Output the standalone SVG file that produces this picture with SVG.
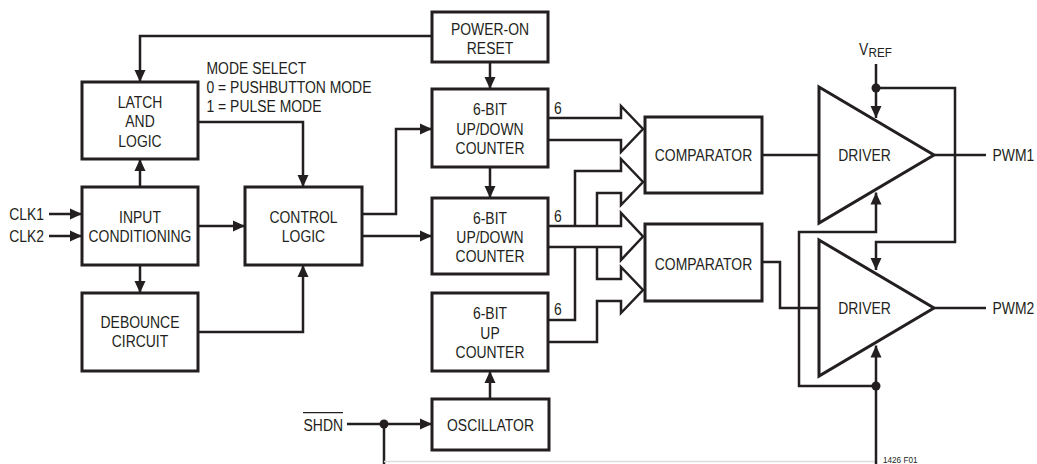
<svg xmlns="http://www.w3.org/2000/svg" width="1037" height="464" viewBox="0 0 1037 464">
<style>
.box{fill:#fff;stroke:#231f20;stroke-width:3}
.w{fill:none;stroke:#231f20;stroke-width:2.5}
.t{font-family:"Liberation Sans",Arial,sans-serif;font-size:17px;fill:#231f20}
.c{text-anchor:middle}
.e{text-anchor:end}
.dot{fill:#231f20}
</style>
<defs>
<marker id="ah" markerUnits="userSpaceOnUse" markerWidth="12" markerHeight="12" refX="12" refY="6" orient="auto"><path d="M0,0.5 L12,6 L0,11.5 z" fill="#231f20"/></marker>
</defs>
<rect width="1037" height="464" fill="#fff"/>
<g id="connectors">
<polyline class="w" points="432,36 140,36 140,82" marker-end="url(#ah)"/>
<polyline class="w" points="490,62 490,89" marker-end="url(#ah)"/>
<polyline class="w" points="490,167 490,198" marker-end="url(#ah)"/>
<polyline class="w" points="490,399 490,371" marker-end="url(#ah)"/>
<polyline class="w" points="347,424 432,424" marker-end="url(#ah)"/>
<polyline class="w" points="384,424 384,464"/>
<line x1="384" y1="461.5" x2="876" y2="461.5" stroke="#dcdcdc" stroke-width="1.5"/>
<circle class="dot" cx="384" cy="424" r="4.5"/>
<polyline class="w" points="49,214 82,214" marker-end="url(#ah)"/>
<polyline class="w" points="49,236 82,236" marker-end="url(#ah)"/>
<polyline class="w" points="140,187 140,159" marker-end="url(#ah)"/>
<polyline class="w" points="140,265 140,293" marker-end="url(#ah)"/>
<polyline class="w" points="198,226 245,226" marker-end="url(#ah)"/>
<polyline class="w" points="198,122 303,122 303,187" marker-end="url(#ah)"/>
<polyline class="w" points="198,332 303,332 303,265" marker-end="url(#ah)"/>
<polyline class="w" points="362,214 396,214 396,129 432,129" marker-end="url(#ah)"/>
<polyline class="w" points="362,236 432,236" marker-end="url(#ah)"/>
<polyline class="w" points="548,118 621,118 621,106 643,129 621,152 621,140 548,140"/>
<polyline class="w" points="575,226 575,171 621,171 621,159 643,182 621,205 621,193 597,193 597,226"/>
<polyline class="w" points="548,226 621,226 621,213 643,236.5 621,260 621,247 548,247"/>
<polyline class="w" points="575,247 575,320 548,320"/>
<polyline class="w" points="597,247 597,279 621,279 621,267 643,290 621,313 621,301 597,301 597,342 548,342"/>
<polyline class="w" points="762,155 819,155"/>
<polyline class="w" points="762,262 780,262 780,308 819,308"/>
<polyline class="w" points="934,155 986,155"/>
<polyline class="w" points="934,308 986,308"/>
<polyline class="w" points="876,64 876,118" marker-end="url(#ah)"/>
<polyline class="w" points="876,88 955,88 955,242 876,242 876,270" marker-end="url(#ah)"/>
<circle class="dot" cx="876" cy="88" r="4.5"/>
<polyline class="w" points="876,464 876,345.5" marker-end="url(#ah)"/>
<polyline class="w" points="876,386 799,386 799,232 876,232 876,192.5" marker-end="url(#ah)"/>
<circle class="dot" cx="876" cy="386" r="4.5"/>
</g>
<g id="latch">
<rect class="box" x="82" y="82" width="116" height="77"/>
<g class="t c" transform="translate(140 0) scale(0.82 1)"><text x="0" y="108.3">LATCH</text><text x="0" y="127">AND</text><text x="0" y="147">LOGIC</text></g>
</g>
<g id="mode-select">
<g class="t" transform="translate(206.5 0) scale(0.82 1)"><text x="0" y="74">MODE SELECT</text><text x="0" y="93.5">0 = PUSHBUTTON MODE</text><text x="0" y="112.3">1 = PULSE MODE</text></g>
</g>
<g id="input-conditioning">
<rect class="box" x="82" y="187" width="116" height="78"/>
<g class="t c" transform="translate(140 0) scale(0.82 1)"><text x="0" y="223">INPUT</text><text x="0" y="242">CONDITIONING</text></g>
</g>
<g id="clk-labels">
<g class="t e" transform="translate(44 0) scale(0.82 1)"><text x="0" y="220">CLK1</text><text x="0" y="242">CLK2</text></g>
</g>
<g id="debounce">
<rect class="box" x="82" y="293" width="116" height="78"/>
<g class="t c" transform="translate(140 0) scale(0.82 1)"><text x="0" y="328">DEBOUNCE</text><text x="0" y="347">CIRCUIT</text></g>
</g>
<g id="control-logic">
<rect class="box" x="245" y="187" width="117" height="78"/>
<g class="t c" transform="translate(303.5 0) scale(0.82 1)"><text x="0" y="223">CONTROL</text><text x="0" y="242">LOGIC</text></g>
</g>
<g id="power-on-reset">
<rect class="box" x="432" y="12" width="116" height="50"/>
<g class="t c" transform="translate(490 0) scale(0.82 1)"><text x="0" y="34.7">POWER-ON</text><text x="0" y="54">RESET</text></g>
</g>
<g id="counter1">
<rect class="box" x="432" y="89" width="116" height="78"/>
<g class="t c" transform="translate(490 0) scale(0.82 1)"><text x="0" y="115.3">6-BIT</text><text x="0" y="135.5">UP/DOWN</text><text x="0" y="154.2">COUNTER</text></g>
<g class="t" transform="translate(554 0) scale(0.82 1)"><text x="0" y="114">6</text></g>
</g>
<g id="counter2">
<rect class="box" x="432" y="198" width="116" height="76"/>
<g class="t c" transform="translate(490 0) scale(0.82 1)"><text x="0" y="224">6-BIT</text><text x="0" y="243">UP/DOWN</text><text x="0" y="262">COUNTER</text></g>
<g class="t" transform="translate(554 0) scale(0.82 1)"><text x="0" y="222">6</text></g>
</g>
<g id="counter3">
<rect class="box" x="432" y="293" width="116" height="78"/>
<g class="t c" transform="translate(490 0) scale(0.82 1)"><text x="0" y="319">6-BIT</text><text x="0" y="339">UP</text><text x="0" y="358">COUNTER</text></g>
<g class="t" transform="translate(554 0) scale(0.82 1)"><text x="0" y="315">6</text></g>
</g>
<g id="oscillator">
<rect class="box" x="432" y="399" width="117" height="51"/>
<g class="t c" transform="translate(490.5 0) scale(0.82 1)"><text x="0" y="430.7">OSCILLATOR</text></g>
</g>
<g id="shdn">
<g class="t e" transform="translate(343 0) scale(0.82 1)"><text x="0" y="431">SHDN</text></g>
<line x1="303" y1="412.7" x2="343" y2="412.7" stroke="#231f20" stroke-width="1.3"/>
</g>
<g id="comparator1">
<rect class="box" x="645" y="117" width="117" height="76"/>
<g class="t c" transform="translate(703.5 0) scale(0.82 1)"><text x="0" y="161">COMPARATOR</text></g>
</g>
<g id="comparator2">
<rect class="box" x="645" y="224" width="117" height="77"/>
<g class="t c" transform="translate(703.5 0) scale(0.82 1)"><text x="0" y="269.7">COMPARATOR</text></g>
</g>
<g id="driver1">
<polygon class="box" points="819,87 934,155 819,223"/>
<g class="t c" transform="translate(864.5 0) scale(0.82 1)"><text x="0" y="161">DRIVER</text></g>
</g>
<g id="driver2">
<polygon class="box" points="819,240 934,308 819,376"/>
<g class="t c" transform="translate(864.5 0) scale(0.82 1)"><text x="0" y="314.5">DRIVER</text></g>
</g>
<g id="vref">
<g class="t" transform="translate(859 0) scale(0.82 1)"><text x="0" y="55">V</text></g>
<g class="t" transform="translate(868.5 0) scale(0.9 1)"><text x="0" y="56.7" style="font-size:13px">REF</text></g>
</g>
<g id="outputs">
<g class="t" transform="translate(992.5 0) scale(0.82 1)"><text x="0" y="161">PWM1</text><text x="0" y="314.5">PWM2</text></g>
</g>
<g id="figure-label">
<g class="t" transform="translate(883 0) scale(0.96 1)"><text x="0" y="463" style="font-size:8.5px">1426 F01</text></g>
</g>
</svg>
